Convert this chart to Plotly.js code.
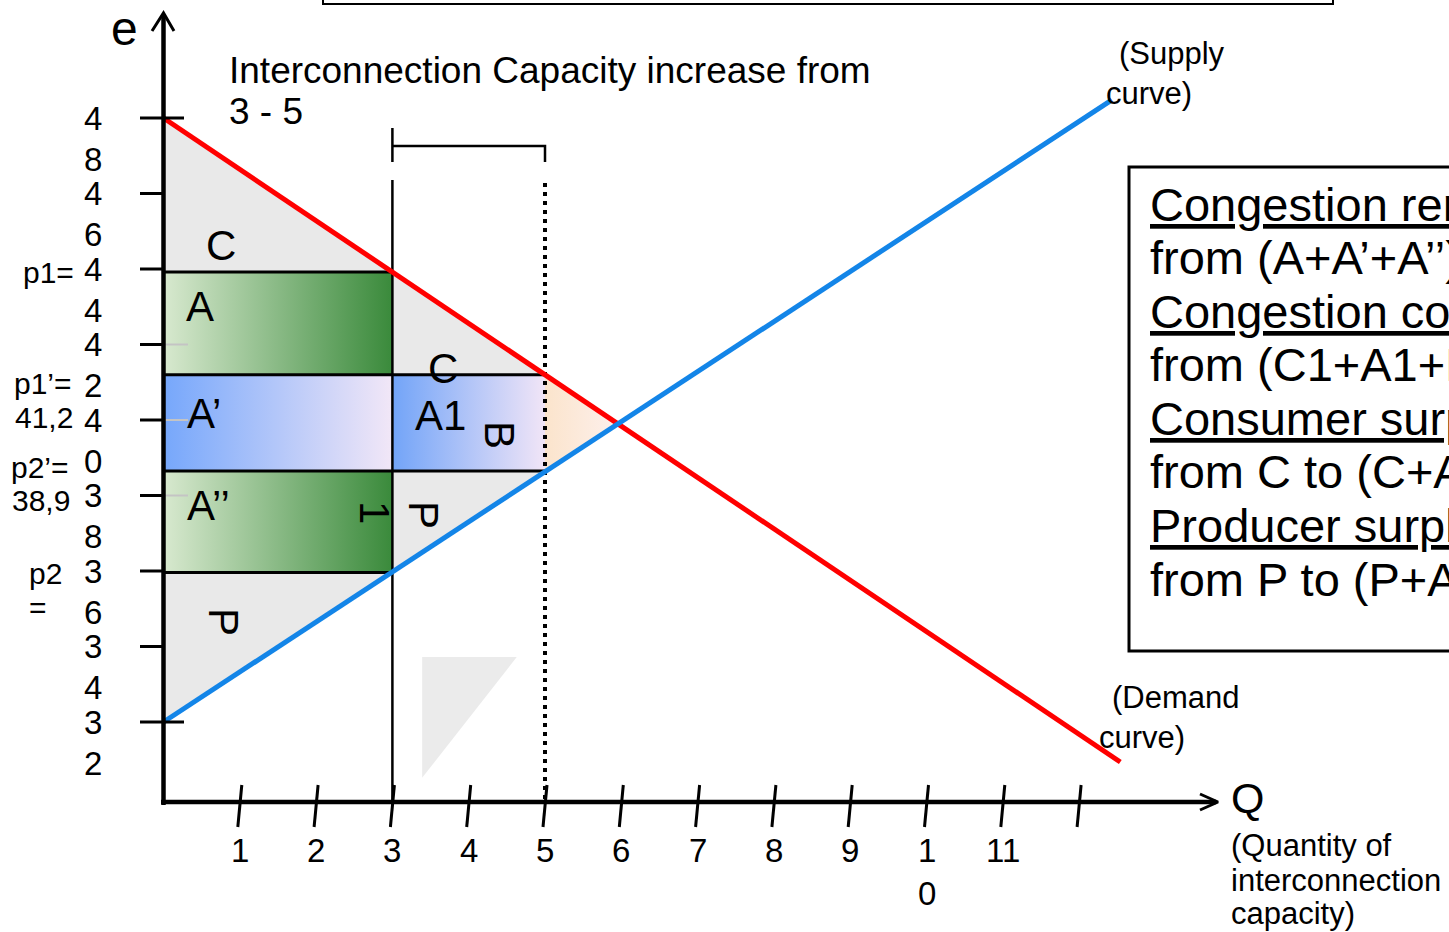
<!DOCTYPE html>
<html><head><meta charset="utf-8">
<script src="https://cdn.plot.ly/plotly-3.0.1.min.js"></script>
<style>html,body{margin:0;padding:0;background:#fff;overflow:hidden}</style>
</head><body><div id="chart" style="width:1449px;height:932px"></div>
<script>
// ---------------- data ----------------
const demandQ = [0, 12.54];
const demandP = [48, 30.94];
const supplyQ = [0, 12.43];
const supplyP = [32, 48.48];
const capacityOld = 3;
const capacityNew = 5;
const p1 = 43.92, p1b = 41.2, p2b = 38.65, p2 = 35.96;
const equilibriumQ = 5.95, equilibriumP = 39.9;
const xTickValues = [1, 2, 3, 4, 5, 6, 7, 8, 9, 10, 11, 12];
const xTickLabels = ['1', '2', '3', '4', '5', '6', '7', '8', '9', '1<br>0', '11', ''];
const yTickValues = [48, 46, 44, 42, 40, 38, 36, 34, 32];
const yTickLabels = ['48', '46', '44', '42', '40', '38', '36', '34', '32'];
const faintTickValues = [42, 40, 38];
const hintTriangleQ = [3.39, 4.63, 3.39];
const hintTriangleP = [33.72, 33.72, 30.52];
const boxLines = ['Congestion rent decreases', 'from (A+A’+A’’) to (A’+A1)', 'Congestion cost decreases',
  'from (C1+A1+B+P1) to B', 'Consumer surplus increases', 'from C to (C+A+C1)',
  'Producer surplus increases', 'from P to (P+A’’+P1)'];

// ---------------- geometry helpers ----------------
const W = 1449, H = 932;
const PXQ = 76.3, X0 = 163.5, PXV = 37.75, Y48 = 118;
const xr = [-X0 / PXQ, (W - X0) / PXQ];
const yr = [48 - (H - Y48) / PXV, 48 + Y48 / PXV];
const X = px => xr[0] + px / W * (xr[1] - xr[0]);
const Y = py => yr[1] - py / H * (yr[1] - yr[0]);
const dq = px => px / PXQ;   // pixel length -> q units
const FONT = 'Liberation Sans, Arial, sans-serif';

const traces = [];
function line(xs, ys, color, width, dash) {
  traces.push({type: 'scatter', mode: 'lines', x: xs, y: ys, cliponaxis: false,
    line: {color: color, width: width, dash: dash || 'solid'}, hoverinfo: 'skip', showlegend: false});
}
function poly(xs, ys, c1, c2, start, stop) {
  const t = {type: 'scatter', mode: 'lines', x: xs, y: ys, fill: 'toself', fillcolor: c1,
    line: {width: 0, color: 'rgba(0,0,0,0)'}, hoverinfo: 'skip', showlegend: false};
  if (c2) t.fillgradient = {type: 'horizontal', colorscale: [[0, c1], [1, c2]], start: start, stop: stop};
  traces.push(t);
}

// gray surplus region up to new capacity
poly([0, capacityNew, capacityNew, 0], [demandP[0], p1b, p2b, supplyP[0]], '#e9e9e9');
// green rents A and A''
poly([0, capacityOld, capacityOld, 0], [p1, p1, p1b, p1b], '#d8e9cf', '#3a8a3b', 0, capacityOld);
poly([0, capacityOld, capacityOld, 0], [p2b, p2b, p2, p2], '#d8e9cf', '#3a8a3b', 0, capacityOld);
// blue A' and A1
poly([0, capacityOld, capacityOld, 0], [p1b, p1b, p2b, p2b], '#76a7fb', '#f2e7f7', 0, capacityOld);
poly([capacityOld, capacityNew, capacityNew, capacityOld], [p1b, p1b, p2b, p2b], '#72a4f8', '#f1e5f7', capacityOld, capacityNew);
// B triangle
poly([capacityNew, equilibriumQ, capacityNew], [p1b, equilibriumP, p2b], '#fbe4cc', '#fdf0ec', capacityNew, equilibriumQ);
// hint triangle
poly(hintTriangleQ, hintTriangleP, '#ebebeb');

// price lines
line([0, capacityOld], [p1, p1], '#000', 3);
line([0, capacityNew], [p1b, p1b], '#000', 3);
line([0, capacityNew], [p2b, p2b], '#000', 3);
line([0, capacityOld], [p2, p2], '#000', 3);
// faint inner ticks
faintTickValues.forEach(v => line([0, X(188)], [v, v], '#c4c4c4', 2));
// capacity lines and bracket
line([capacityOld, capacityOld], [Y(180), Y(802)], '#000', 2.5);
line([capacityOld, capacityOld, capacityOld, capacityNew, capacityNew], [Y(128), Y(162), Y(146), Y(146), Y(162)], '#000', 2.5);
line([capacityNew, capacityNew], [Y(183), Y(800)], '#000', 4, '4px,5px');
// demand and supply
line(demandQ, demandP, '#ff0000', 5);
line(supplyQ, supplyP, '#1385e8', 5);

// axes
line([0, 0], [Y(805), Y(14)], '#000', 4.5);
line([X(152), 0, X(174)], [Y(31), Y(13), Y(31)], '#000', 3);
line([X(161), X(1216)], [Y(802), Y(802)], '#000', 4.5);
line([X(1200), X(1218), X(1200)], [Y(794), Y(802), Y(810)], '#000', 3);
// y ticks
yTickValues.forEach((v, i) => {
  const ext = (i === 0 || i === yTickValues.length - 1) ? 184 : 165;
  line([X(140), X(ext)], [v, v], '#000', 3);
});
// x ticks (slightly slanted, hand drawn)
xTickValues.forEach(t => line([t + dq(2), t - dq(2)], [Y(785), Y(827)], '#000', 3));

// ---------------- text ----------------
const ann = [];
function txt(text, px, py, size, o) {
  o = o || {};
  ann.push(Object.assign({text: text, x: X(px), y: Y(py), xref: 'x', yref: 'y', showarrow: false,
    xanchor: 'center', yanchor: 'middle', font: {family: FONT, size: size, color: '#000'}}, o));
}
// x tick labels
xTickValues.forEach((t, i) => {
  if (xTickLabels[i]) ann.push({text: xTickLabels[i], x: t, y: Y(830), xref: 'x', yref: 'y', showarrow: false,
    xanchor: 'center', yanchor: 'top', font: {family: FONT, size: 33, color: '#000'}});
});
// y tick labels, digits stacked
yTickValues.forEach((v, i) => {
  const s = yTickLabels[i];
  ann.push({text: s[0], x: X(93), y: v, xref: 'x', yref: 'y', showarrow: false, xanchor: 'center', yanchor: 'middle',
    font: {family: FONT, size: 33, color: '#000'}});
  ann.push({text: s[1], x: X(93), y: v - 41 / PXV, xref: 'x', yref: 'y', showarrow: false, xanchor: 'center', yanchor: 'middle',
    font: {family: FONT, size: 33, color: '#000'}});
});
// price labels
txt('p1=', 48, 272, 30);
txt('p1’=', 43, 383, 30);
txt('41,2', 44, 417, 30);
txt('p2’=', 40, 467, 30);
txt('38,9', 41, 500, 30);
txt('p2', 45, 573, 30);
txt('=', 38, 607, 30);
// axis names
txt('e', 124, 28, 48);
txt('Q', 1247, 798, 43);
txt('(Quantity of', 1229, 845, 31, {xanchor: 'left'});
txt('interconnection', 1229, 880, 31, {xanchor: 'left'});
txt('capacity)', 1229, 913, 31, {xanchor: 'left'});
// curve names
txt('(Supply', 1117, 53, 31, {xanchor: 'left'});
txt('curve)', 1104, 93, 31, {xanchor: 'left'});
txt('(Demand', 1110, 697, 31, {xanchor: 'left'});
txt('curve)', 1097, 737, 31, {xanchor: 'left'});
// heading
txt('Interconnection Capacity increase from', 227, 70, 37, {xanchor: 'left'});
txt('3 - 5', 227, 111, 37, {xanchor: 'left'});
// area labels
txt('C', 221, 245, 42);
txt('A', 200, 306, 42);
txt('A’', 185, 413, 42, {xanchor: 'left'});
txt('A’’', 185, 505, 42, {xanchor: 'left'});
txt('P', 224, 622, 42, {textangle: 90});
txt('C', 443, 368, 42);
txt('A1', 440, 415, 42);
txt('B', 500, 435, 42, {textangle: 90});
txt('P', 424, 515, 42, {textangle: 90});
txt('1', 375, 512, 42, {textangle: 90});
// right box text
const boxY = [204, 257, 311, 364, 418, 471, 525, 579];
boxLines.forEach((s, i) => txt(i % 2 === 0 ? '<u>' + s + '</u>' : s, 1148, boxY[i], 47, {xanchor: 'left'}));

const shapes = [
  {type: 'rect', xref: 'paper', yref: 'paper', x0: 1129 / W, x1: 1.05, y0: 1 - 651 / H, y1: 1 - 167 / H,
    line: {color: '#000', width: 3}, fillcolor: 'rgba(0,0,0,0)'},
  {type: 'rect', xref: 'paper', yref: 'paper', x0: 323 / W, x1: 1333 / W, y0: 1 - 4 / H, y1: 1.05,
    line: {color: '#000', width: 2}, fillcolor: 'rgba(0,0,0,0)'}
];

const layout = {
  width: W, height: H, margin: {l: 0, r: 0, t: 0, b: 0}, paper_bgcolor: '#fff', plot_bgcolor: '#fff',
  xaxis: {range: xr, visible: false, fixedrange: true},
  yaxis: {range: yr, visible: false, fixedrange: true},
  showlegend: false, annotations: ann, shapes: shapes
};
Plotly.newPlot('chart', traces, layout, {staticPlot: true, displayModeBar: false});
</script></body></html>
